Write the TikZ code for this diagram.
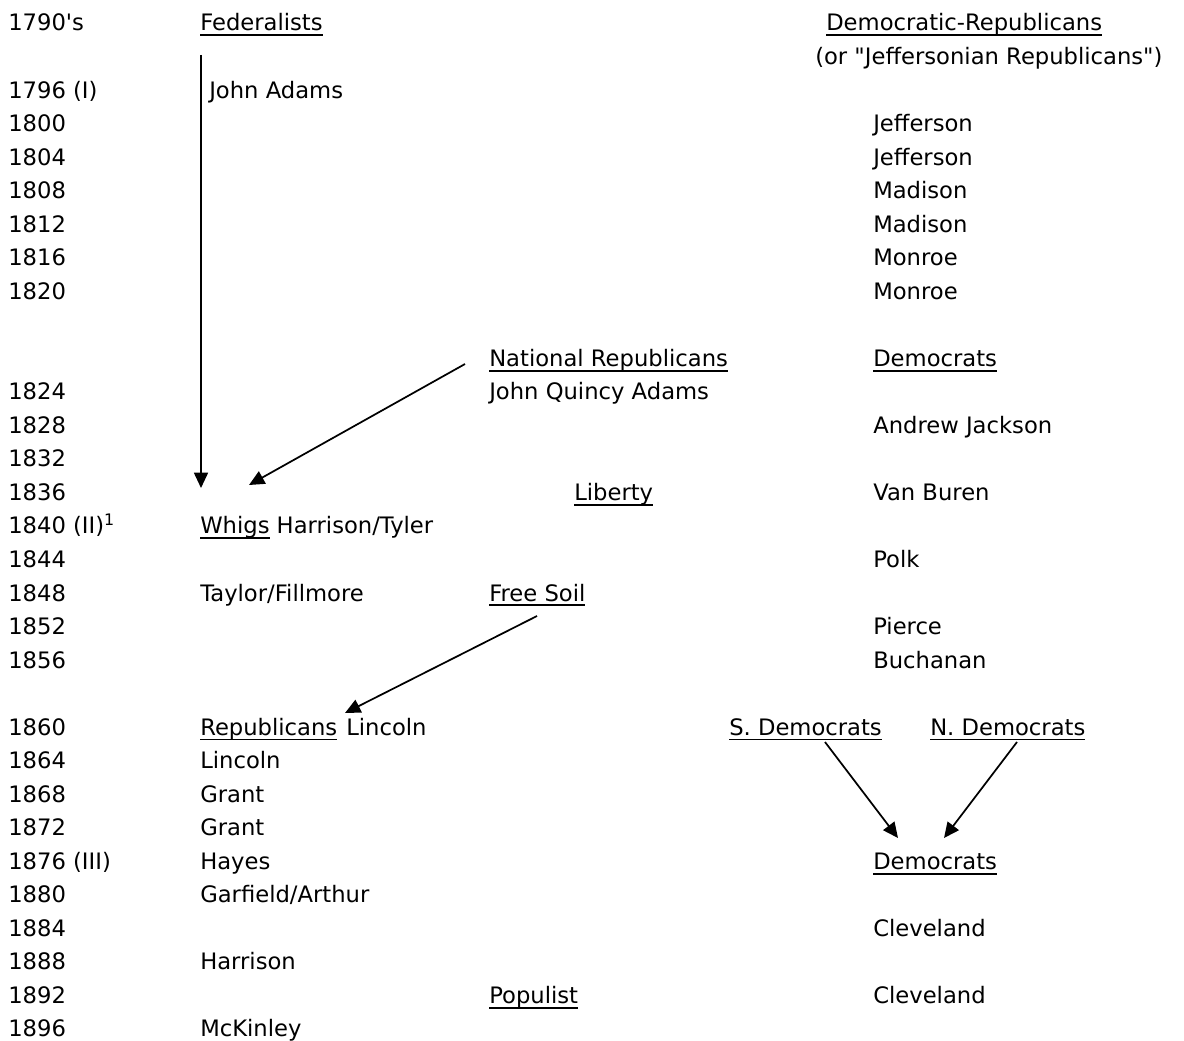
\documentclass[tikz,border=0pt]{standalone}
\usepackage{fontspec}
\setmainfont{DejaVu Sans}[Ligatures=TeXOff]
\usetikzlibrary{arrows.meta}
\newlength{\undlw}
\newcommand{\undl}[1]{\settowidth{\undlw}{#1}\rlap{\rule[-4pt]{\undlw}{1.4pt}}#1}
\tikzset{
  lbl/.style={anchor=base west, inner sep=0pt, font=\fontsize{17pt}{20pt}\selectfont},
  link/.style={line width=1.3pt, -{Triangle[length=11.5pt,width=10.5pt]}}
}
\begin{document}
\begin{tikzpicture}[x=0.75pt,y=-0.75pt]
\useasboundingbox (0,0) rectangle (1184,1041);
% years
\foreach \k/\t [count=\i] in {0/1790's,2/1796 (I),3/1800,4/1804,5/1808,6/1812,7/1816,8/1820,11/1824,12/1828,13/1832,14/1836,15/1840 (II)\textsuperscript{1},16/1844,17/1848,18/1852,19/1856,21/1860,22/1864,23/1868,24/1872,25/1876 (III),26/1880,27/1884,28/1888,29/1892,30/1896}
  \node[lbl] (yr\i) at (8,{31+33.53*\k}) {\t};
% party headings
\node[lbl] (fed) at (200,{31+33.53*0}) {\undl{Federalists}};
\node[lbl] (demrep) at (826,{31+33.53*0}) {\undl{Democratic-Republicans}};
\node[lbl] (jeffrep) at (815,{31+33.53*1}) {(or "Jeffersonian Republicans")};
\node[lbl] (natrep) at (489,{31+33.53*10}) {\undl{National Republicans}};
\node[lbl] (dems) at (873,{31+33.53*10}) {\undl{Democrats}};
\node[lbl] (liberty) at (574,{31+33.53*14}) {\undl{Liberty}};
\node[lbl] (whigs) at (200,{31+33.53*15}) {\undl{Whigs} Harrison/Tyler};
\node[lbl] (freesoil) at (489,{31+33.53*17}) {\undl{Free Soil}};
\node[lbl] (reps) at (200,{31+33.53*21}) {\undl{Republicans}};
\node[lbl] (sdem) at (729,{31+33.53*21}) {\undl{S. Democrats}};
\node[lbl] (ndem) at (930,{31+33.53*21}) {\undl{N. Democrats}};
\node[lbl] (dems2) at (873,{31+33.53*25}) {\undl{Democrats}};
\node[lbl] (populist) at (489,{31+33.53*29}) {\undl{Populist}};
% presidents
\node[lbl] (adams) at (209,{31+33.53*2}) {John Adams};
\node[lbl] (jeff1) at (873,{31+33.53*3}) {Jefferson};
\node[lbl] (jeff2) at (873,{31+33.53*4}) {Jefferson};
\node[lbl] (mad1) at (873,{31+33.53*5}) {Madison};
\node[lbl] (mad2) at (873,{31+33.53*6}) {Madison};
\node[lbl] (mon1) at (873,{31+33.53*7}) {Monroe};
\node[lbl] (mon2) at (873,{31+33.53*8}) {Monroe};
\node[lbl] (jqa) at (489,{31+33.53*11}) {John Quincy Adams};
\node[lbl] (jackson) at (873,{31+33.53*12}) {Andrew Jackson};
\node[lbl] (vanburen) at (873,{31+33.53*14}) {Van Buren};
\node[lbl] (polk) at (873,{31+33.53*16}) {Polk};
\node[lbl] (taylor) at (200,{31+33.53*17}) {Taylor/Fillmore};
\node[lbl] (pierce) at (873,{31+33.53*18}) {Pierce};
\node[lbl] (buchanan) at (873,{31+33.53*19}) {Buchanan};
\node[lbl] (lincoln1) at (346,{31+33.53*21}) {Lincoln};
\node[lbl] (lincoln2) at (200,{31+33.53*22}) {Lincoln};
\node[lbl] (grant1) at (200,{31+33.53*23}) {Grant};
\node[lbl] (grant2) at (200,{31+33.53*24}) {Grant};
\node[lbl] (hayes) at (200,{31+33.53*25}) {Hayes};
\node[lbl] (garfield) at (200,{31+33.53*26}) {Garfield/Arthur};
\node[lbl] (cleve1) at (873,{31+33.53*27}) {Cleveland};
\node[lbl] (harrison) at (200,{31+33.53*28}) {Harrison};
\node[lbl] (cleve2) at (873,{31+33.53*29}) {Cleveland};
\node[lbl] (mckinley) at (200,{31+33.53*30}) {McKinley};
% connector ends
\coordinate (fedS) at (201,55);
\coordinate (fedE) at (201,488);
\coordinate (nrS) at (465,364);
\coordinate (nrE) at (249,485);
\coordinate (fsS) at (537,616);
\coordinate (fsE) at (345,713);
\coordinate (sdS) at (825,742);
\coordinate (sdE) at (898,838);
\coordinate (ndS) at (1017,742);
\coordinate (ndE) at (944,838);
\draw[link] (fedS) -- (fedE);
\draw[link] (nrS) -- (nrE);
\draw[link] (fsS) -- (fsE);
\draw[link] (sdS) -- (sdE);
\draw[link] (ndS) -- (ndE);
\end{tikzpicture}
\end{document}
